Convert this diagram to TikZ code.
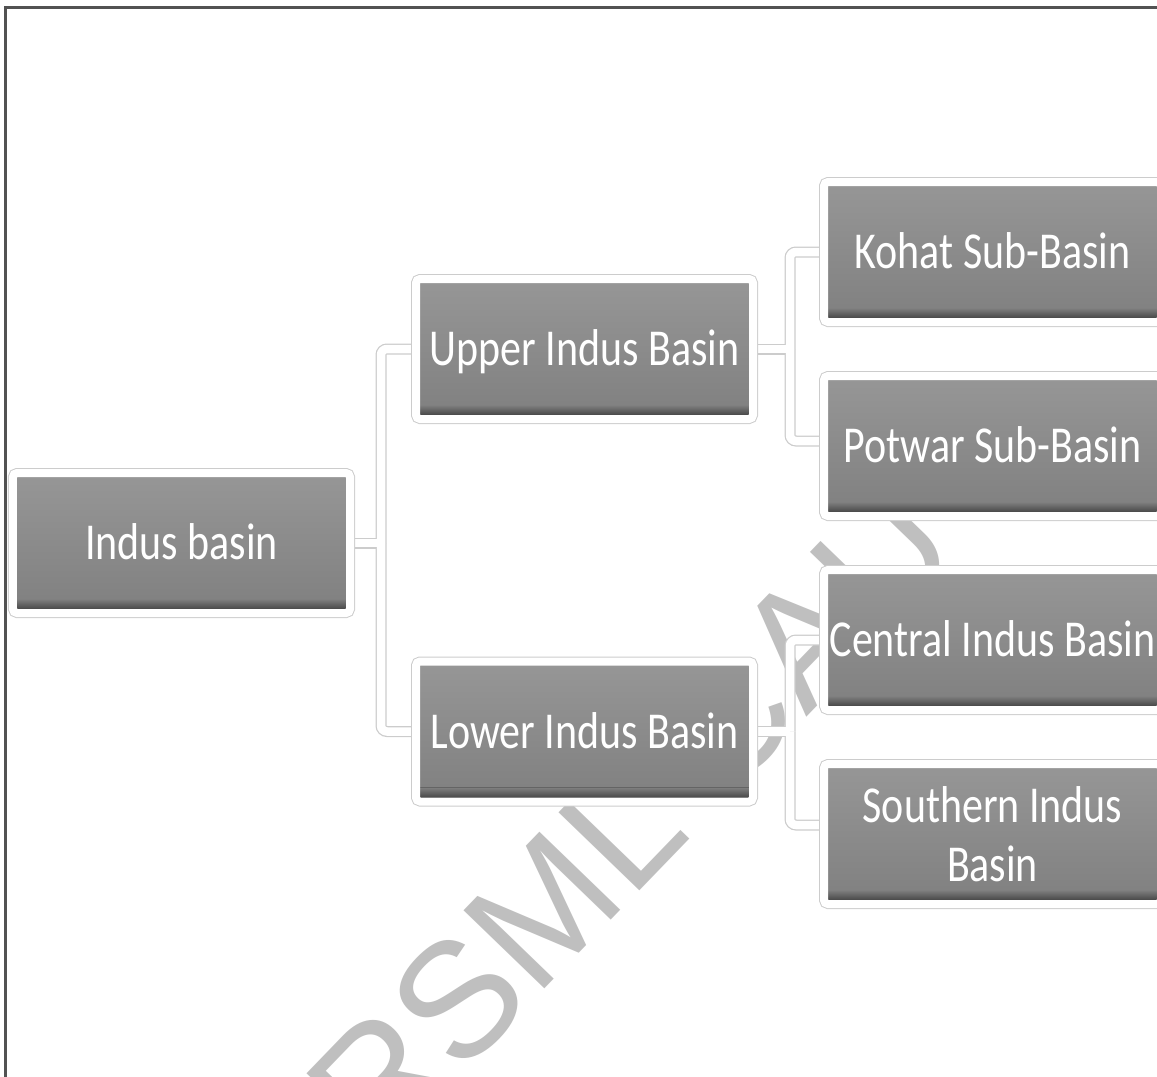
\documentclass[tikz,border=0pt]{standalone}
\usepackage{fontspec}
\usetikzlibrary{backgrounds}
\newfontfamily\boxfont[FakeStretch=0.81]{Carlito}
\newfontfamily\markfont{Liberation Sans}
\begin{document}
\begin{tikzpicture}[x=1bp,y=-1bp,
  box/.style={minimum width=337bp, minimum height=140bp, inner sep=0pt, outer sep=0pt,
    rounded corners=4bp, draw=white, line width=8bp,
    preaction={draw=black!20, line width=10bp},
    path picture={
      \fill[top color=black!41, bottom color=black!50]
        (path picture bounding box.south west) rectangle (path picture bounding box.north east);
      \fill[top color=black!50, bottom color=black!72]
        ([yshift=4bp]path picture bounding box.south west) rectangle ([yshift=14bp]path picture bounding box.south east);
    },
    text=white, font=\boxfont\fontsize{52}{59}\selectfont, align=center},
  oneline/.style={text height=33bp, text depth=0bp},
  connout/.style={draw=black!20, line width=11bp, rounded corners=6bp},
  connin/.style={draw=white, line width=8.5bp, rounded corners=6bp},
  frameline/.style={draw=black!68, line width=3bp}
]
\useasboundingbox (0,0) rectangle (1157,1077);
\clip (0,0) rectangle (1157,1077);

% chart boxes
\path (181.5,543) node[box, oneline] (indus) {Indus basin};
\path (584.5,349) node[box, oneline] (upper) {Upper Indus Basin};
\path (584.5,731.5) node[box, oneline] (lower) {Lower Indus Basin};
\path (992.5,252) node[box, oneline] (kohat) {Kohat Sub-Basin};
\path (992.5,446) node[box, oneline] (potwar) {Potwar Sub-Basin};
\path (992.5,640) node[box, oneline] (central) {Central Indus Basin};
\path (992.5,834) node[box] (southern) {Southern Indus\\Basin};

% junction points of the tree connectors
\path (indus.east) ++(31,0) coordinate (j1);
\path (upper.east) ++(37,0) coordinate (j2);
\path (lower.east) ++(37,0) coordinate (j3);

\begin{scope}[on background layer]
  % watermark lettering behind the chart
  \node[font=\markfont\fontsize{164}{164}\selectfont, text=black!25, rotate=46,
        anchor=base west, inner sep=0pt] (mark) at (378,1162) {RSML CAU};
  % connectors: grey rims first, then white cores
  \foreach \s in {connout,connin}{
    \draw[\s] (indus.east) -- (j1);
    \draw[\s] (j1) |- (upper.west);
    \draw[\s] (j1) |- (lower.west);
    \draw[\s] (upper.east) -- (j2);
    \draw[\s] (j2) |- (kohat.west);
    \draw[\s] (j2) |- ([yshift=5bp]potwar.west);
    \draw[\s] (lower.east) -- (j3);
    \draw[\s] (j3) |- (central.west);
    \draw[\s] (j3) |- ([yshift=9bp]southern.west);
  }
\end{scope}

% outer frame
\draw[frameline] (5.5,7.5) rectangle (1200,1120);
\end{tikzpicture}
\end{document}
